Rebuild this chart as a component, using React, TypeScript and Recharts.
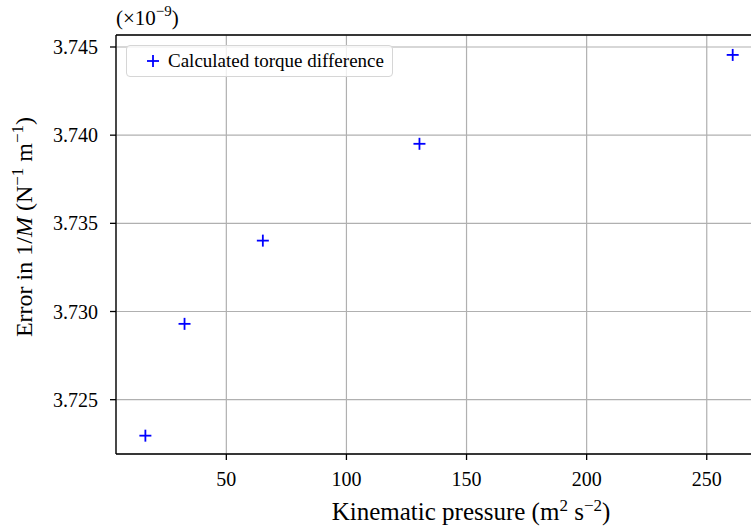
import { ScatterChart, Scatter, XAxis, YAxis, CartesianGrid, ReferenceLine } from "recharts"

// Kinematic pressure (m^2 s^-2) vs error in 1/M (x1e-9)
const PRESSURE = [16.3, 32.6, 65.2, 130.4, 260.8]
const ERROR = [3.72296, 3.72930, 3.73402, 3.73951, 3.74455]
const X_TICKS = [50, 100, 150, 200, 250]
const Y_TICKS = [3.725, 3.730, 3.735, 3.740, 3.745]
const X_DOMAIN = [4.07, 273.0]
const Y_DOMAIN = [3.72192, 3.74568]

const points = PRESSURE.map((x, i) => ({ x, y: ERROR[i] }))

const FONT = "'Times New Roman', 'Liberation Serif', 'DejaVu Serif', serif"
const BLUE = "#0000ff"

const Plus = (props: any) => {
  const { cx, cy } = props
  if (cx == null || cy == null) return null
  return (
    <g>
      <line x1={cx - 6} x2={cx + 6} y1={cy} y2={cy} stroke={BLUE} strokeWidth={1.8} />
      <line x1={cx} x2={cx} y1={cy - 6} y2={cy + 6} stroke={BLUE} strokeWidth={1.8} />
    </g>
  )
}

const XTick = ({ x, y, payload }: any) => (
  <text x={x} y={y + 24} textAnchor="middle" style={{ fontFamily: FONT }} fontSize={20} fill="#000">
    {payload.value}
  </text>
)

const YTick = ({ x, y, payload }: any) => (
  <text x={x - 10} y={y + 7} textAnchor="end" style={{ fontFamily: FONT }} fontSize={20} fill="#000">
    {Number(payload.value).toFixed(3)}
  </text>
)

const YLabel = () => (
  <text transform="translate(32,227) rotate(-90)" textAnchor="middle"
    style={{ fontFamily: FONT }} fontSize={24} fill="#000">
    Error in 1/<tspan fontStyle="italic">M</tspan> (N<tspan dy={-9} fontSize={17}>−1</tspan>
    <tspan dy={9}> m</tspan><tspan dy={-9} fontSize={17}>−1</tspan><tspan dy={9}>)</tspan>
  </text>
)

const XLabel = () => (
  <text x={471} y={520} textAnchor="middle" style={{ fontFamily: FONT }} fontSize={25} fill="#000">
    Kinematic pressure (m<tspan dy={-9} fontSize={17}>2</tspan><tspan dy={9}> s</tspan>
    <tspan dy={-9} fontSize={17}>−2</tspan><tspan dy={9}>)</tspan>
  </text>
)

export default function App() {
  return (
    <div style={{ position: "absolute", left: 0, top: 0, width: 751, height: 526, overflow: "hidden", background: "#fff", fontFamily: FONT }}>
      <ScatterChart width={780} height={526} margin={{ top: 35, right: 18, bottom: 0, left: 0 }}>
        <CartesianGrid stroke="#b0b0b0" strokeWidth={1.2} />
        <XAxis type="number" dataKey="x" domain={X_DOMAIN} ticks={X_TICKS} allowDataOverflow
          height={72} tickSize={6} stroke="#000" strokeWidth={1.3}
          tick={<XTick />}
          label={{ content: () => <XLabel /> }} />
        <YAxis type="number" dataKey="y" domain={Y_DOMAIN} ticks={Y_TICKS} allowDataOverflow
          width={116} tickSize={6} stroke="#000" strokeWidth={1.3}
          tick={<YTick />}
          label={{ content: () => <YLabel /> }} />
        <ReferenceLine y={Y_DOMAIN[1]} stroke="#000" strokeWidth={1.3} />
        <ReferenceLine x={X_DOMAIN[1]} stroke="#000" strokeWidth={1.3} />
        <Scatter data={points} shape={Plus} isAnimationActive={false} />
        <text x={116} y={25} style={{ fontFamily: FONT }} fontSize={21} fill="#000">
          (×10<tspan dy={-9} fontSize={15}>−9</tspan><tspan dy={9}>)</tspan>
        </text>
      </ScatterChart>
      <div style={{
        position: "absolute", left: 126, top: 45, height: 32, boxSizing: "border-box",
        border: "1px solid #d6d6d6", borderRadius: 4, background: "rgba(255,255,255,0.8)",
        fontFamily: FONT, fontSize: 19, color: "#000",
        padding: "0 8px 0 19px", display: "flex", alignItems: "center", gap: 8,
        whiteSpace: "nowrap"
      }}>
        <svg width={14} height={14} style={{ flexShrink: 0, display: "block" }}>
          <line x1={1} x2={13} y1={7} y2={7} stroke={BLUE} strokeWidth={1.8} />
          <line x1={7} x2={7} y1={1} y2={13} stroke={BLUE} strokeWidth={1.8} />
        </svg>
        <span>Calculated torque difference</span>
      </div>
    </div>
  )
}
